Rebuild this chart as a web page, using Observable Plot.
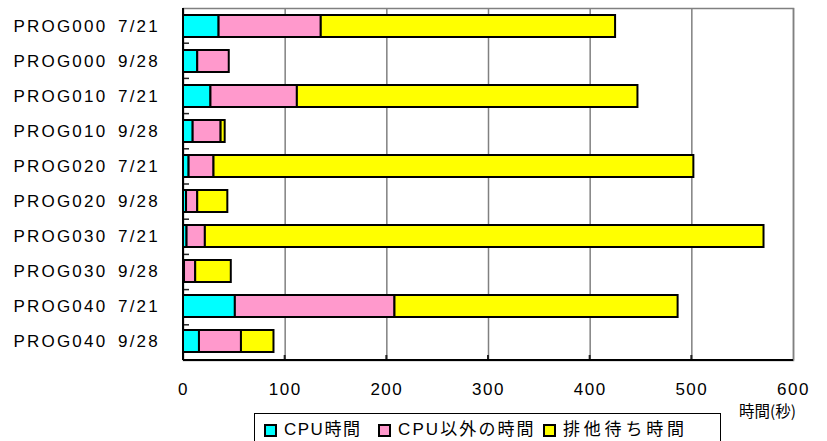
<!DOCTYPE html>
<html>
<head>
<meta charset="utf-8">
<script src="https://cdn.jsdelivr.net/npm/d3@7"></script>
<script src="https://cdn.jsdelivr.net/npm/@observablehq/plot@0.6"></script>
<style>
  body { margin: 0; background: #fff; }
  #wrap { position: relative; width: 827px; height: 441px; overflow: hidden; font-family: "Liberation Sans", Arial, "Noto Sans CJK JP", sans-serif; }
  #xtitle { position: absolute; left: 726px; top: 401px; width: 70px; text-align: right; font-family: "Noto Sans CJK JP", sans-serif; font-size: 15.5px; line-height: 18px; color: #000; }
  #legend { position: absolute; left: 254px; top: 413px; width: 467px; height: 34px; border: 1px solid #000; box-sizing: border-box; background: #fff; font-family: "Liberation Sans", Arial, "Noto Sans CJK JP", sans-serif; font-size: 17px; line-height: 20px; }
  .item { position: absolute; top: 6px; display: flex; align-items: center; white-space: nowrap; }
  .sw { width: 9px; height: 9px; border: 2px solid #000; margin-right: 7px; box-sizing: content-box; }
  svg g[aria-label="y-axis tick label"] text { letter-spacing: 2.2px; }
  svg g[aria-label="x-axis tick label"] text { letter-spacing: 1.5px; }
</style>
</head>
<body>
<div id="wrap"></div>
<script>
const labels = [
  "PROG000\u20027/21", "PROG000\u20029/28",
  "PROG010\u20027/21", "PROG010\u20029/28",
  "PROG020\u20027/21", "PROG020\u20029/28",
  "PROG030\u20027/21", "PROG030\u20029/28",
  "PROG040\u20027/21", "PROG040\u20029/28"
];
const seriesNames = ["CPU時間", "CPU以外の時間", "排他待ち時間"];
const cpuTime   = [35, 14, 27, 9.5, 5.5, 3, 3.5, 1, 51, 15.7];
const otherTime = [100.5, 31, 85, 27.5, 24.5, 11, 18, 11, 157, 41.3];
const waitTime  = [289.5, 0, 335, 4, 472, 29.6, 549.5, 35, 278.5, 32];
const xTicks = [0, 100, 200, 300, 400, 500, 600];
const colors = ["#00FFFF", "#FF99CC", "#FFFF00"];

const data = labels.flatMap((label, i) => [
  {label, series: seriesNames[0], value: cpuTime[i]},
  {label, series: seriesNames[1], value: otherTime[i]},
  {label, series: seriesNames[2], value: waitTime[i]}
]).filter(d => d.value > 0);

// axis lines and inner tick marks drawn from the scales
function axesDecor(index, scales, values, dim) {
  const g = d3.create("svg:g");
  const x = scales.x;
  const bottom = dim.height - dim.marginBottom;
  const top = dim.marginTop;
  const x0 = x(0), x1 = x(600);
  const step = (bottom - top) / labels.length;
  for (let k = 1; k < labels.length; k++) {
    const yy = top + step * k;
    g.append("line").attr("x1", x0).attr("x2", x0 + 6).attr("y1", yy).attr("y2", yy)
      .attr("stroke", "#222").attr("stroke-width", 1.5);
  }
  for (const t of xTicks.slice(1, -1)) {
    g.append("line").attr("x1", x(t)).attr("x2", x(t)).attr("y1", bottom).attr("y2", bottom - 5)
      .attr("stroke", "#222").attr("stroke-width", 2);
  }
  g.append("line").attr("x1", x0).attr("x2", x1).attr("y1", bottom).attr("y2", bottom)
    .attr("stroke", "#000").attr("stroke-width", 2);
  g.append("line").attr("x1", x0).attr("x2", x0).attr("y1", top).attr("y2", bottom)
    .attr("stroke", "#000").attr("stroke-width", 2);
  return g.node();
}

const chart = Plot.plot({
  width: 827,
  height: 441,
  marginLeft: 183,
  marginRight: 34,
  marginTop: 8,
  marginBottom: 81,
  style: {fontFamily: '"Liberation Sans", Arial, sans-serif', background: "white"},
  x: {domain: [0, 600]},
  y: {domain: labels, paddingInner: 0.37, paddingOuter: 0.185, align: 0.5},
  color: {domain: seriesNames, range: colors},
  marks: [
    Plot.gridX(xTicks.slice(1), {stroke: "#808080", strokeOpacity: 1, strokeWidth: 1.5}),
    Plot.frame({stroke: "#808080", strokeWidth: 1.5}),
    Plot.barX(data, Plot.stackX({
      x: "value", y: "label", fill: "series",
      order: seriesNames,
      stroke: "#000", strokeWidth: 2
    })),
    axesDecor,
    Plot.axisX(xTicks, {tickSize: 0, tickPadding: 22, fontSize: 17, fill: "#000", label: null}),
    Plot.axisY({tickSize: 0, tickPadding: 0, textAnchor: "start", dx: -170, fontSize: 17, fill: "#000", label: null})
  ]
});

const wrap = document.getElementById("wrap");
wrap.appendChild(chart);
d3.select(chart).selectAll("text").style("white-space", "pre");

const xt = document.createElement("div");
xt.id = "xtitle";
xt.textContent = "時間(秒)";
wrap.appendChild(xt);

const leg = document.createElement("div");
leg.id = "legend";
const itemLeft = [9, 123, 288];
const itemSpacing = [1.5, 2.1, 3.8];
seriesNames.forEach((s, i) => {
  const it = document.createElement("div");
  it.className = "item";
  it.style.left = itemLeft[i] + "px";
  const sw = document.createElement("div");
  sw.className = "sw";
  sw.style.background = colors[i];
  const tx = document.createElement("span");
  tx.textContent = s;
  tx.style.letterSpacing = itemSpacing[i] + "px";
  it.appendChild(sw);
  it.appendChild(tx);
  leg.appendChild(it);
});
wrap.appendChild(leg);
</script>
</body>
</html>
